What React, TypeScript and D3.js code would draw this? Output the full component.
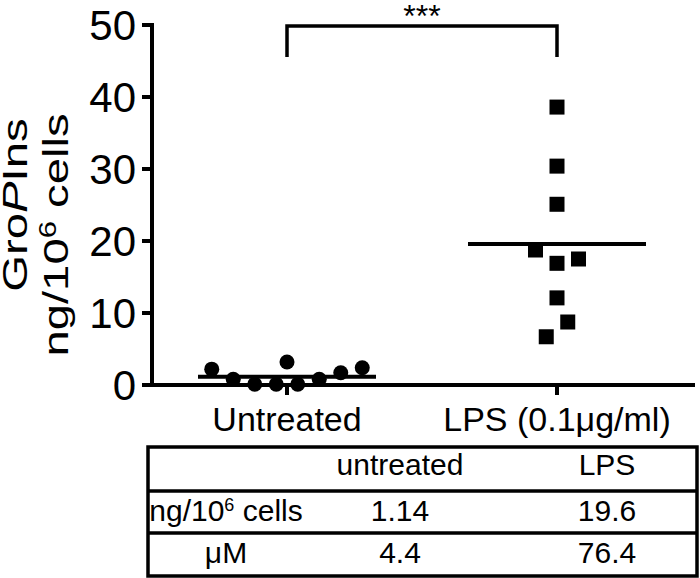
import React from "react";
import * as d3 from "d3";

const categories = ["Untreated", "LPS (0.1\u03BCg/ml)"];
const untreatedValues = [2.2, 0.8, 0.1, 0.1, 3.2, 0.1, 0.8, 1.7, 2.4];
const untreatedJitter = [-3.5, -2.5, -1.5, -0.5, 0, 0.5, 1.5, 2.5, 3.5];
const lpsValues = [38.6, 30.4, 25.1, 18.75, 16.9, 17.5, 12.1, 8.75, 6.7];
const lpsJitter = [0, 0, 0, -1, 0, 1, 0, 0.5, -0.5];
const meanValues = [1.14, 19.6];
const yTicks = [0, 10, 20, 30, 40, 50];
const significance = "***";
const tableHeader = ["", "untreated", "LPS"];
const tableRow1 = ["ng/10|6| cells", "1.14", "19.6"];
const tableRow2 = ["\u03BCM", "4.4", "76.4"];

const FONT = "'Liberation Sans', Arial, Helvetica, sans-serif";

export default function App() {
  const W = 700;
  const H = 578;
  const y = d3.scaleLinear().domain([0, 50]).range([385, 25]);
  const x = d3.scalePoint<string>().domain(categories).range([287, 557]);
  const jitterStep = 21.5;
  const axisX = 152;
  const axisY = y(0);
  const meanHalf = 89;
  const sq = 15;

  const tableLeft = 148;
  const tableRight = 697;
  const rowLines = [447, 491, 533, 576];
  const colCenters = [226, 400, 607];
  const rows = [tableHeader, tableRow1, tableRow2];
  const baselines = [475, 521, 563];

  const renderCell = (txt: string) => {
    const parts = txt.split("|");
    if (parts.length === 1) return txt;
    return (
      <>
        {parts[0]}
        <tspan dy={-10} fontSize={18}>{parts[1]}</tspan>
        <tspan dy={10}>{parts[2]}</tspan>
      </>
    );
  };

  return (
    <svg width={W} height={H} style={{ position: "absolute", left: 0, top: 0, background: "#fff" }} fontFamily={FONT}>
      <rect width={W} height={H} fill="#fff" />
      {/* y axis */}
      <line x1={axisX} x2={axisX} y1={y(50) - 2} y2={axisY + 2} stroke="#000" strokeWidth={4} />
      {yTicks.map((t) => (
        <g key={t}>
          <line x1={axisX - 10} x2={axisX} y1={y(t)} y2={y(t)} stroke="#000" strokeWidth={4} />
          <text x={axisX - 16} y={y(t)} dy="0.36em" textAnchor="end" fontSize={42} fill="#000">
            {t}
          </text>
        </g>
      ))}
      {/* x axis */}
      <line x1={axisX - 10} x2={695} y1={axisY} y2={axisY} stroke="#000" strokeWidth={4} />
      {categories.map((c) => (
        <g key={c}>
          <line x1={x(c)} x2={x(c)} y1={axisY} y2={axisY + 10} stroke="#000" strokeWidth={4} />
          <text x={x(c)} y={431} textAnchor="middle" fontSize={34} fill="#000">
            {c}
          </text>
        </g>
      ))}
      {/* y title */}
      <text transform={`translate(27,205) rotate(-90) scale(1.35,1)`} textAnchor="middle" fontSize={35} fill="#000">
        Gro<tspan fontStyle="italic">P</tspan>Ins
      </text>
      <text transform={`translate(68,235) rotate(-90) scale(1.35,1)`} textAnchor="middle" fontSize={35} fill="#000">
        ng/10<tspan dy={-12} fontSize={23}>6</tspan>
        <tspan dy={12}> cells</tspan>
      </text>
      {/* points */}
      {untreatedValues.map((v, i) => (
        <circle key={"u" + i} cx={(x(categories[0]) as number) + untreatedJitter[i] * jitterStep} cy={y(v)} r={7.5} fill="#000" />
      ))}
      {lpsValues.map((v, i) => (
        <rect
          key={"l" + i}
          x={(x(categories[1]) as number) + lpsJitter[i] * jitterStep - sq / 2}
          y={y(v) - sq / 2}
          width={sq}
          height={sq}
          fill="#000"
        />
      ))}
      {/* means */}
      {meanValues.map((m, i) => (
        <line
          key={"m" + i}
          x1={(x(categories[i]) as number) - meanHalf}
          x2={(x(categories[i]) as number) + meanHalf}
          y1={y(m)}
          y2={y(m)}
          stroke="#000"
          strokeWidth={4}
        />
      ))}
      {/* significance bracket */}
      <path
        d={`M${x(categories[0])},57 V26 H${x(categories[1])} V57`}
        fill="none"
        stroke="#000"
        strokeWidth={3.5}
      />
      <text x={((x(categories[0]) as number) + (x(categories[1]) as number)) / 2} y={27} textAnchor="middle" fontSize={32} fill="#000">
        {significance}
      </text>
      {/* table */}
      <rect x={tableLeft} y={rowLines[0]} width={tableRight - tableLeft} height={rowLines[3] - rowLines[0]} fill="none" stroke="#000" strokeWidth={3.5} />
      {rowLines.slice(1, 3).map((ly, i) => (
        <line key={"rl" + i} x1={tableLeft} x2={tableRight} y1={ly} y2={ly} stroke="#000" strokeWidth={3.5} />
      ))}
      {rows.map((r, ri) =>
        r.map((cell, ci) => (
          <text key={ri + "-" + ci} x={colCenters[ci]} y={baselines[ri]} textAnchor="middle" fontSize={30} fill="#000">
            {renderCell(cell)}
          </text>
        ))
      )}
    </svg>
  );
}
